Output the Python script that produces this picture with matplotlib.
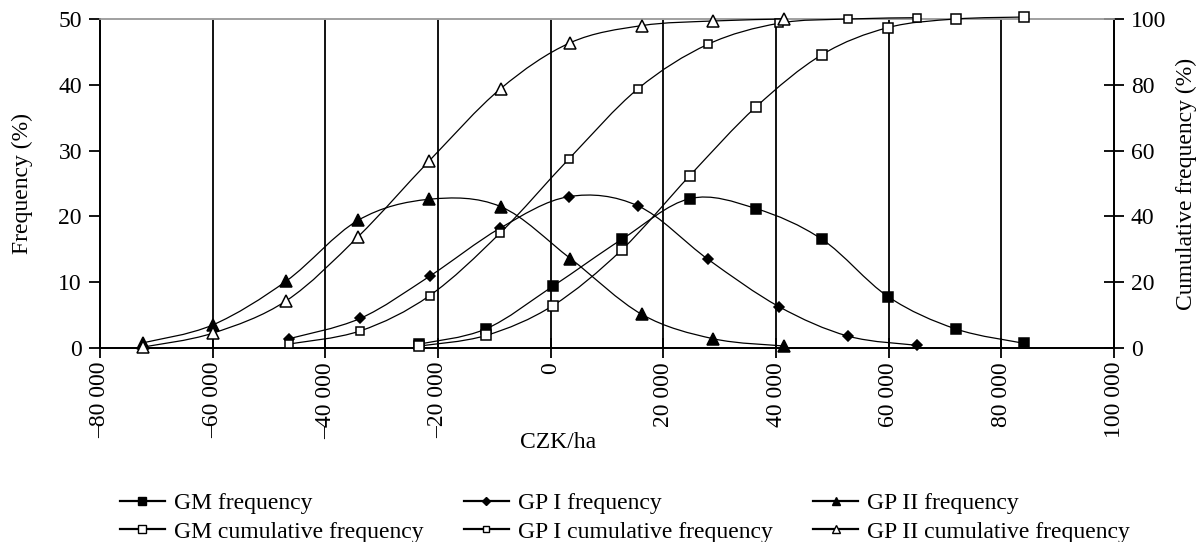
import numpy as np
import matplotlib
matplotlib.use("Agg")
import matplotlib.pyplot as plt
from matplotlib.path import Path
from matplotlib.patches import PathPatch
from matplotlib.lines import Line2D

# ---------------- data ----------------
gm_x = [-23300, -11500, 400, 12600, 24700, 36400, 48200, 59900, 71900, 84100]
gm_freq = [0.6, 2.9, 9.4, 16.5, 22.7, 21.2, 16.5, 7.8, 2.9, 0.7]
gm_cum = [0.6, 3.8, 12.9, 29.8, 52.4, 73.2, 89.2, 97.4, 100.0, 100.6]

gp1_x = [-46500, -33800, -21500, -9000, 3200, 15500, 27900, 40500, 52800, 65100]
gp1_freq = [1.4, 4.5, 10.9, 18.2, 23.0, 21.6, 13.5, 6.3, 1.8, 0.4]
gp1_cum = [1.2, 5.2, 15.9, 34.9, 57.4, 78.8, 92.3, 98.7, 100.0, 100.4]

gp2_x = [-72300, -60000, -46900, -34200, -21600, -8900, 3500, 16200, 28900, 41500]
gp2_freq = [0.8, 3.5, 10.2, 19.4, 22.6, 21.5, 13.6, 5.1, 1.4, 0.3]
gp2_cum = [0.3, 4.5, 14.4, 33.8, 56.8, 78.8, 92.8, 98.0, 99.4, 100.0]

x_ticks = [-80000, -60000, -40000, -20000, 0, 20000, 40000, 60000, 80000, 100000]
x_tick_labels = ["\u201380 000", "\u201360 000", "\u201340 000", "\u201320 000", "0",
                 "20 000", "40 000", "60 000", "80 000", "100 000"]
y_left_ticks = [0, 10, 20, 30, 40, 50]
y_right_ticks = [0, 20, 40, 60, 80, 100]

plt.rcParams['font.family'] = ['Liberation Serif', 'DejaVu Serif']
FS = 17


def smooth_path(x, y):
    """Excel-like smoothed line: cubic Bezier segments (Catmull-Rom, 1/6)."""
    x = np.asarray(x, float)
    y = np.asarray(y, float)
    n = len(x)
    verts = [(x[0], y[0])]
    codes = [Path.MOVETO]
    for i in range(n - 1):
        i0 = max(i - 1, 0)
        i3 = min(i + 2, n - 1)
        c1 = (x[i] + (x[i + 1] - x[i0]) / 6.0, y[i] + (y[i + 1] - y[i0]) / 6.0)
        c2 = (x[i + 1] - (x[i3] - x[i]) / 6.0, y[i + 1] - (y[i3] - y[i]) / 6.0)
        verts += [c1, c2, (x[i + 1], y[i + 1])]
        codes += [Path.CURVE4, Path.CURVE4, Path.CURVE4]
    return Path(verts, codes)


W, H = 1197, 542
fig = plt.figure(figsize=(W / 100, H / 100), dpi=100)
L, R, B, T = 100 / W, 1114 / W, 1 - 348 / H, 1 - 19 / H
ax = fig.add_axes([L, B, R - L, T - B])
ax2 = ax.twinx()

ax.set_xlim(-80000, 100000)
ax.set_ylim(0, 50)
ax2.set_ylim(0, 100)

# vertical grid lines
for xv in x_ticks[1:-1]:
    ax.axvline(xv, color='black', lw=1.3, zorder=1)

LW = 0.9
series = [
    (ax, gm_x, gm_freq, 's', 'black', 7.5),
    (ax2, gm_x, gm_cum, 's', 'white', 7.5),
    (ax, gp1_x, gp1_freq, 'D', 'black', 5.5),
    (ax2, gp1_x, gp1_cum, 's', 'white', 5.2),
    (ax, gp2_x, gp2_freq, '^', 'black', 8),
    (ax2, gp2_x, gp2_cum, '^', 'white', 8),
]
for a, xs, ys, m, fc, ms in series:
    p = PathPatch(smooth_path(xs, ys), facecolor='none', edgecolor='black',
                  lw=LW, zorder=3, clip_on=False)
    a.add_patch(p)
    a.plot(xs, ys, linestyle='none', marker=m, markerfacecolor=fc,
           markeredgecolor='black', markeredgewidth=1.1, markersize=ms,
           zorder=4, clip_on=False)

# spines
for a in (ax, ax2):
    a.spines['top'].set_color('#a0a0a0')
    a.spines['top'].set_linewidth(1.2)
    a.spines['left'].set_linewidth(1.3)
    a.spines['right'].set_linewidth(1.3)
    a.spines['bottom'].set_linewidth(1.3)

ax.set_xticks(x_ticks)
ax.set_xticklabels(x_tick_labels, rotation=90, fontsize=FS)
ax.tick_params(axis='x', direction='inout', length=14, width=1.3, pad=3)
ax.set_yticks(y_left_ticks)
ax.set_yticklabels([str(v) for v in y_left_ticks], fontsize=FS)
ax.tick_params(axis='y', direction='out', length=8, width=1.3, pad=5)
ax2.set_yticks(y_right_ticks)
ax2.set_yticklabels([str(v) for v in y_right_ticks], fontsize=FS)
ax2.tick_params(axis='y', direction='inout', length=14, width=1.3, pad=5)

ymid = 1 - 183.5 / H
fig.text(22 / W, ymid, 'Frequency (%)', fontsize=FS, rotation=90, ha='center', va='center')
fig.text(1186 / W, ymid, 'Cumulative frequency (%)', fontsize=FS, rotation=90,
         ha='center', va='center')
fig.text(558 / W, 1 - 442 / H, 'CZK/ha', fontsize=FS, ha='center', va='center')

handles = []
labels = ['GM frequency', 'GM cumulative frequency', 'GP I frequency',
          'GP I cumulative frequency', 'GP II frequency', 'GP II cumulative frequency']
for (_, _, _, m, fc, ms), lab in zip(series, labels):
    handles.append(Line2D([], [], color='black', lw=1.6, marker=m, markerfacecolor=fc,
                          markeredgecolor='black', markersize=ms * 0.8, markeredgewidth=1.0))
fig.legend(handles, labels, ncol=3, loc='center', bbox_to_anchor=(625 / W, 1 - 517.5 / H),
           frameon=False, fontsize=FS, handlelength=1.9, handletextpad=0.4,
           columnspacing=1.7, labelspacing=0.3, borderpad=0.0)

fig.savefig('out.png', dpi=100)
